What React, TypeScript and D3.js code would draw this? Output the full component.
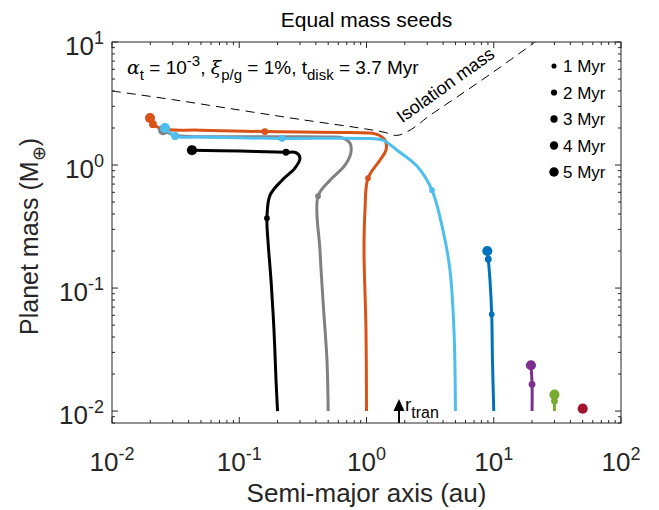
import React from "react";
import * as d3 from "d3";

// ---- data ----
const xTickExps = [-2, -1, 0, 1, 2];
const yTickExps = [-2, -1, 0, 1];
const seriesColors = ["#000000", "#808080", "#D95319", "#4DBEEE", "#0072BD", "#7E2F8E", "#77AC30", "#A2142F"];

const trackBlack: [number, number][] = [
  [0.2, 0.01], [0.1945, 0.0178], [0.1875, 0.0454], [0.1777, 0.1158], [0.168, 0.245], [0.165, 0.37],
  [0.1746, 0.569], [0.217, 0.753], [0.274, 0.944], [0.3, 1.138], [0.279, 1.26], [0.233, 1.27],
  [0.1014, 1.3], [0.0425, 1.32],
];
const trackGray: [number, number][] = [
  [0.5, 0.01], [0.489, 0.0259], [0.455, 0.0796], [0.431, 0.203], [0.416, 0.558], [0.517, 0.753],
  [0.678, 0.998], [0.755, 1.27], [0.741, 1.507], [0.654, 1.655], [0.517, 1.69], [0.1215, 1.7],
  [0.0313, 1.75], [0.0252, 1.92],
];
const trackOrange: [number, number][] = [
  [1.0, 0.01], [0.991, 0.0454], [0.956, 0.203], [0.973, 0.43], [1.027, 0.782], [1.276, 1.096],
  [1.423, 1.32], [1.398, 1.594], [1.188, 1.784], [0.741, 1.835], [0.159, 1.87], [0.0491, 1.92],
  [0.0252, 1.96], [0.021, 2.15], [0.0199, 2.41],
];
const trackLightBlue: [number, number][] = [
  [5.0, 0.01], [4.87, 0.0454], [4.53, 0.1396], [3.99, 0.295], [3.27, 0.625], [2.49, 0.98],
  [1.737, 1.32], [1.348, 1.594], [1.065, 1.64], [0.217, 1.646], [0.0491, 1.686], [0.0313, 1.72],
  [0.0261, 2.0],
];
const trackBlue: [number, number][] = [
  [10, 0.01], [9.77, 0.0259], [9.636, 0.0612], [9.34, 0.1158], [9.06, 0.1715], [8.9, 0.2],
];
const trackPurple: [number, number][] = [[20, 0.01], [20, 0.0165], [19.6, 0.0236]];
const trackGreen: [number, number][] = [[30, 0.01], [30, 0.01206], [30, 0.0136]];
const trackRed: [number, number][] = [[50, 0.01046]];

// time markers: [a (au), M (M_earth), t (Myr)]
const dotsBlack: [number, number, number][] = [[0.165, 0.37, 1], [0.233, 1.27, 2], [0.0425, 1.32, 5]];
const dotsGray: [number, number, number][] = [[0.416, 0.558, 1], [0.0252, 1.92, 5]];
const dotsOrange: [number, number, number][] = [[1.027, 0.782, 1], [0.159, 1.87, 2], [0.021, 2.15, 3], [0.0199, 2.41, 5]];
const dotsLightBlue: [number, number, number][] = [[3.27, 0.625, 1], [0.217, 1.646, 2], [0.0313, 1.72, 3], [0.0261, 2.0, 5]];
const dotsBlue: [number, number, number][] = [[9.636, 0.0612, 1], [9.06, 0.1715, 2], [8.9, 0.2, 5]];
const dotsPurple: [number, number, number][] = [[20, 0.0165, 2], [19.6, 0.0236, 5]];
const dotsGreen: [number, number, number][] = [[30, 0.01206, 2], [30, 0.0136, 5]];
const dotsRed: [number, number, number][] = [[50, 0.01046, 5]];

const isolationMass: [number, number][] = [
  [0.01, 4.0], [0.03, 3.4], [0.1, 2.8], [0.3, 2.35], [1, 1.96], [1.4, 1.84], [1.7, 1.74],
  [2.0, 1.82], [2.5, 2.1], [3, 2.44], [5, 3.5], [10, 5.73], [22, 10.3],
];
const legendTimes = [1, 2, 3, 4, 5];
const rTran = 1.8;

const tracks = [trackBlack, trackGray, trackOrange, trackLightBlue, trackBlue, trackPurple, trackGreen, trackRed];
const dots = [dotsBlack, dotsGray, dotsOrange, dotsLightBlue, dotsBlue, dotsPurple, dotsGreen, dotsRed];

// ---- layout ----
const W = 659, H = 510;
const L = 112, R = 621, T = 42, B = 423;
const FONT = "'Liberation Sans', Arial, Helvetica, sans-serif";
const AX = "#262626";

const x = d3.scaleLog().domain([0.01, 100]).range([L, R]);
const y = d3.scaleLog().domain([0.008, 10]).range([B, T]);
const rad = (t: number) => 2.3 + 0.55 * t;

const line = d3.line<[number, number]>().x(d => x(d[0])).y(d => y(d[1])).curve(d3.curveCatmullRom.alpha(0.5));

function minorTicks(lo: number, hi: number, dom: [number, number]) {
  const out: number[] = [];
  for (let e = lo; e < hi; e++) for (let m = 2; m <= 9; m++) {
    const v = m * Math.pow(10, e);
    if (v >= dom[0] && v <= dom[1]) out.push(v);
  }
  return out;
}

export default function App() {
  const xMinor = minorTicks(-2, 2, [0.01, 100]);
  const yMinor = minorTicks(-3, 1, [0.008, 10]);
  const major = 6, minor = 3;
  const ax = x(rTran);
  return (
    <svg width={W} height={H} style={{ position: "absolute", left: 0, top: 0, background: "#fff" }} fontFamily={FONT}>
      <rect x={0} y={0} width={W} height={H} fill="#fff" />
      <defs>
        <clipPath id="clip"><rect x={L} y={T} width={R - L} height={B - T} /></clipPath>
      </defs>
      {/* title */}
      <text x={(L + R) / 2} y={27} textAnchor="middle" fontSize={21} fill="#000">Equal mass seeds</text>

      {/* isolation mass */}
      <path d={line(isolationMass) || ""} fill="none" stroke="#000" strokeWidth={1} strokeDasharray="9 6" clipPath="url(#clip)" />
      <text transform={`translate(${x(4.45)},${y(4.07)}) rotate(-35.5)`} textAnchor="middle" fontSize={18} fill="#000">Isolation mass</text>

      {/* tracks */}
      {tracks.map((tr, i) => tr.length > 1 ? (
        <path key={"t" + i} d={line(tr) || ""} fill="none" stroke={seriesColors[i]} strokeWidth={3} strokeLinejoin="round" strokeLinecap="butt" />
      ) : null)}
      {dots.map((ds, i) => ds.map((d, j) => (
        <circle key={"d" + i + "-" + j} cx={x(d[0])} cy={y(d[1])} r={rad(d[2])} fill={seriesColors[i]} />
      )))}

      {/* annotation */}
      <text x={127} y={74} fontSize={19} fill="#000">
        <tspan fontStyle="italic" fontFamily="'DejaVu Serif', serif">α</tspan>
        <tspan fontSize={15} dy={6}>t</tspan>
        <tspan dy={-6}> = 10</tspan>
        <tspan fontSize={15} dy={-8}>-3</tspan>
        <tspan dy={8}>, </tspan>
        <tspan fontStyle="italic" fontFamily="'DejaVu Serif', serif">ξ</tspan>
        <tspan fontSize={15} dy={6}>p/g</tspan>
        <tspan dy={-6}> = 1%, t</tspan>
        <tspan fontSize={15} dy={6}>disk</tspan>
        <tspan dy={-6}> = 3.7 Myr</tspan>
      </text>

      {/* legend */}
      {legendTimes.map((t, i) => {
        const cy = 66 + i * 26.5;
        return (
          <g key={"lg" + t}>
            <circle cx={554} cy={cy} r={rad(t) - 0.3} fill="#000" />
            <text x={563} y={cy + 6} fontSize={17} fill="#000">{t} Myr</text>
          </g>
        );
      })}

      {/* r_tran arrow */}
      <line x1={ax} x2={ax} y1={B} y2={B - 14} stroke="#000" strokeWidth={2} />
      <path d={`M${ax - 5.5},${B - 12} L${ax},${B - 24} L${ax + 5.5},${B - 12} Z`} fill="#000" />
      <text x={ax + 6} y={B - 12} fontSize={19} fill="#000">r<tspan fontSize={16} dy={7}>tran</tspan></text>

      {/* axes box */}
      <rect x={L} y={T} width={R - L} height={B - T} fill="none" stroke={AX} strokeWidth={1} />
      {xTickExps.map(e => {
        const px = x(Math.pow(10, e));
        return (
          <g key={"xt" + e}>
            <line x1={px} x2={px} y1={B} y2={B - major} stroke={AX} />
            <line x1={px} x2={px} y1={T} y2={T + major} stroke={AX} />
            <text x={px} y={471} textAnchor="middle" fontSize={26} fill={AX}>10<tspan fontSize={18} dy={-11}>{e}</tspan></text>
          </g>
        );
      })}
      {xMinor.map((v, i) => (
        <g key={"xm" + i}>
          <line x1={x(v)} x2={x(v)} y1={B} y2={B - minor} stroke={AX} />
          <line x1={x(v)} x2={x(v)} y1={T} y2={T + minor} stroke={AX} />
        </g>
      ))}
      {yTickExps.map(e => {
        const py = y(Math.pow(10, e));
        return (
          <g key={"yt" + e}>
            <line x1={L} x2={L + major} y1={py} y2={py} stroke={AX} />
            <line x1={R} x2={R - major} y1={py} y2={py} stroke={AX} />
            <text x={104} y={py + 13} textAnchor="end" fontSize={26} fill={AX}>10<tspan fontSize={18} dy={-11}>{e}</tspan></text>
          </g>
        );
      })}
      {yMinor.map((v, i) => (
        <g key={"ym" + i}>
          <line x1={L} x2={L + minor} y1={y(v)} y2={y(v)} stroke={AX} />
          <line x1={R} x2={R - minor} y1={y(v)} y2={y(v)} stroke={AX} />
        </g>
      ))}

      {/* axis labels */}
      <text x={(L + R) / 2} y={502} textAnchor="middle" fontSize={26} fill={AX}>Semi-major axis (au)</text>
      <text transform={`translate(38,${(T + B) / 2 + 4}) rotate(-90)`} textAnchor="middle" fontSize={25} fill={AX}>
        Planet mass (M<tspan fontSize={18} dy={7}>⊕</tspan><tspan dy={-7}>)</tspan>
      </text>
    </svg>
  );
}
